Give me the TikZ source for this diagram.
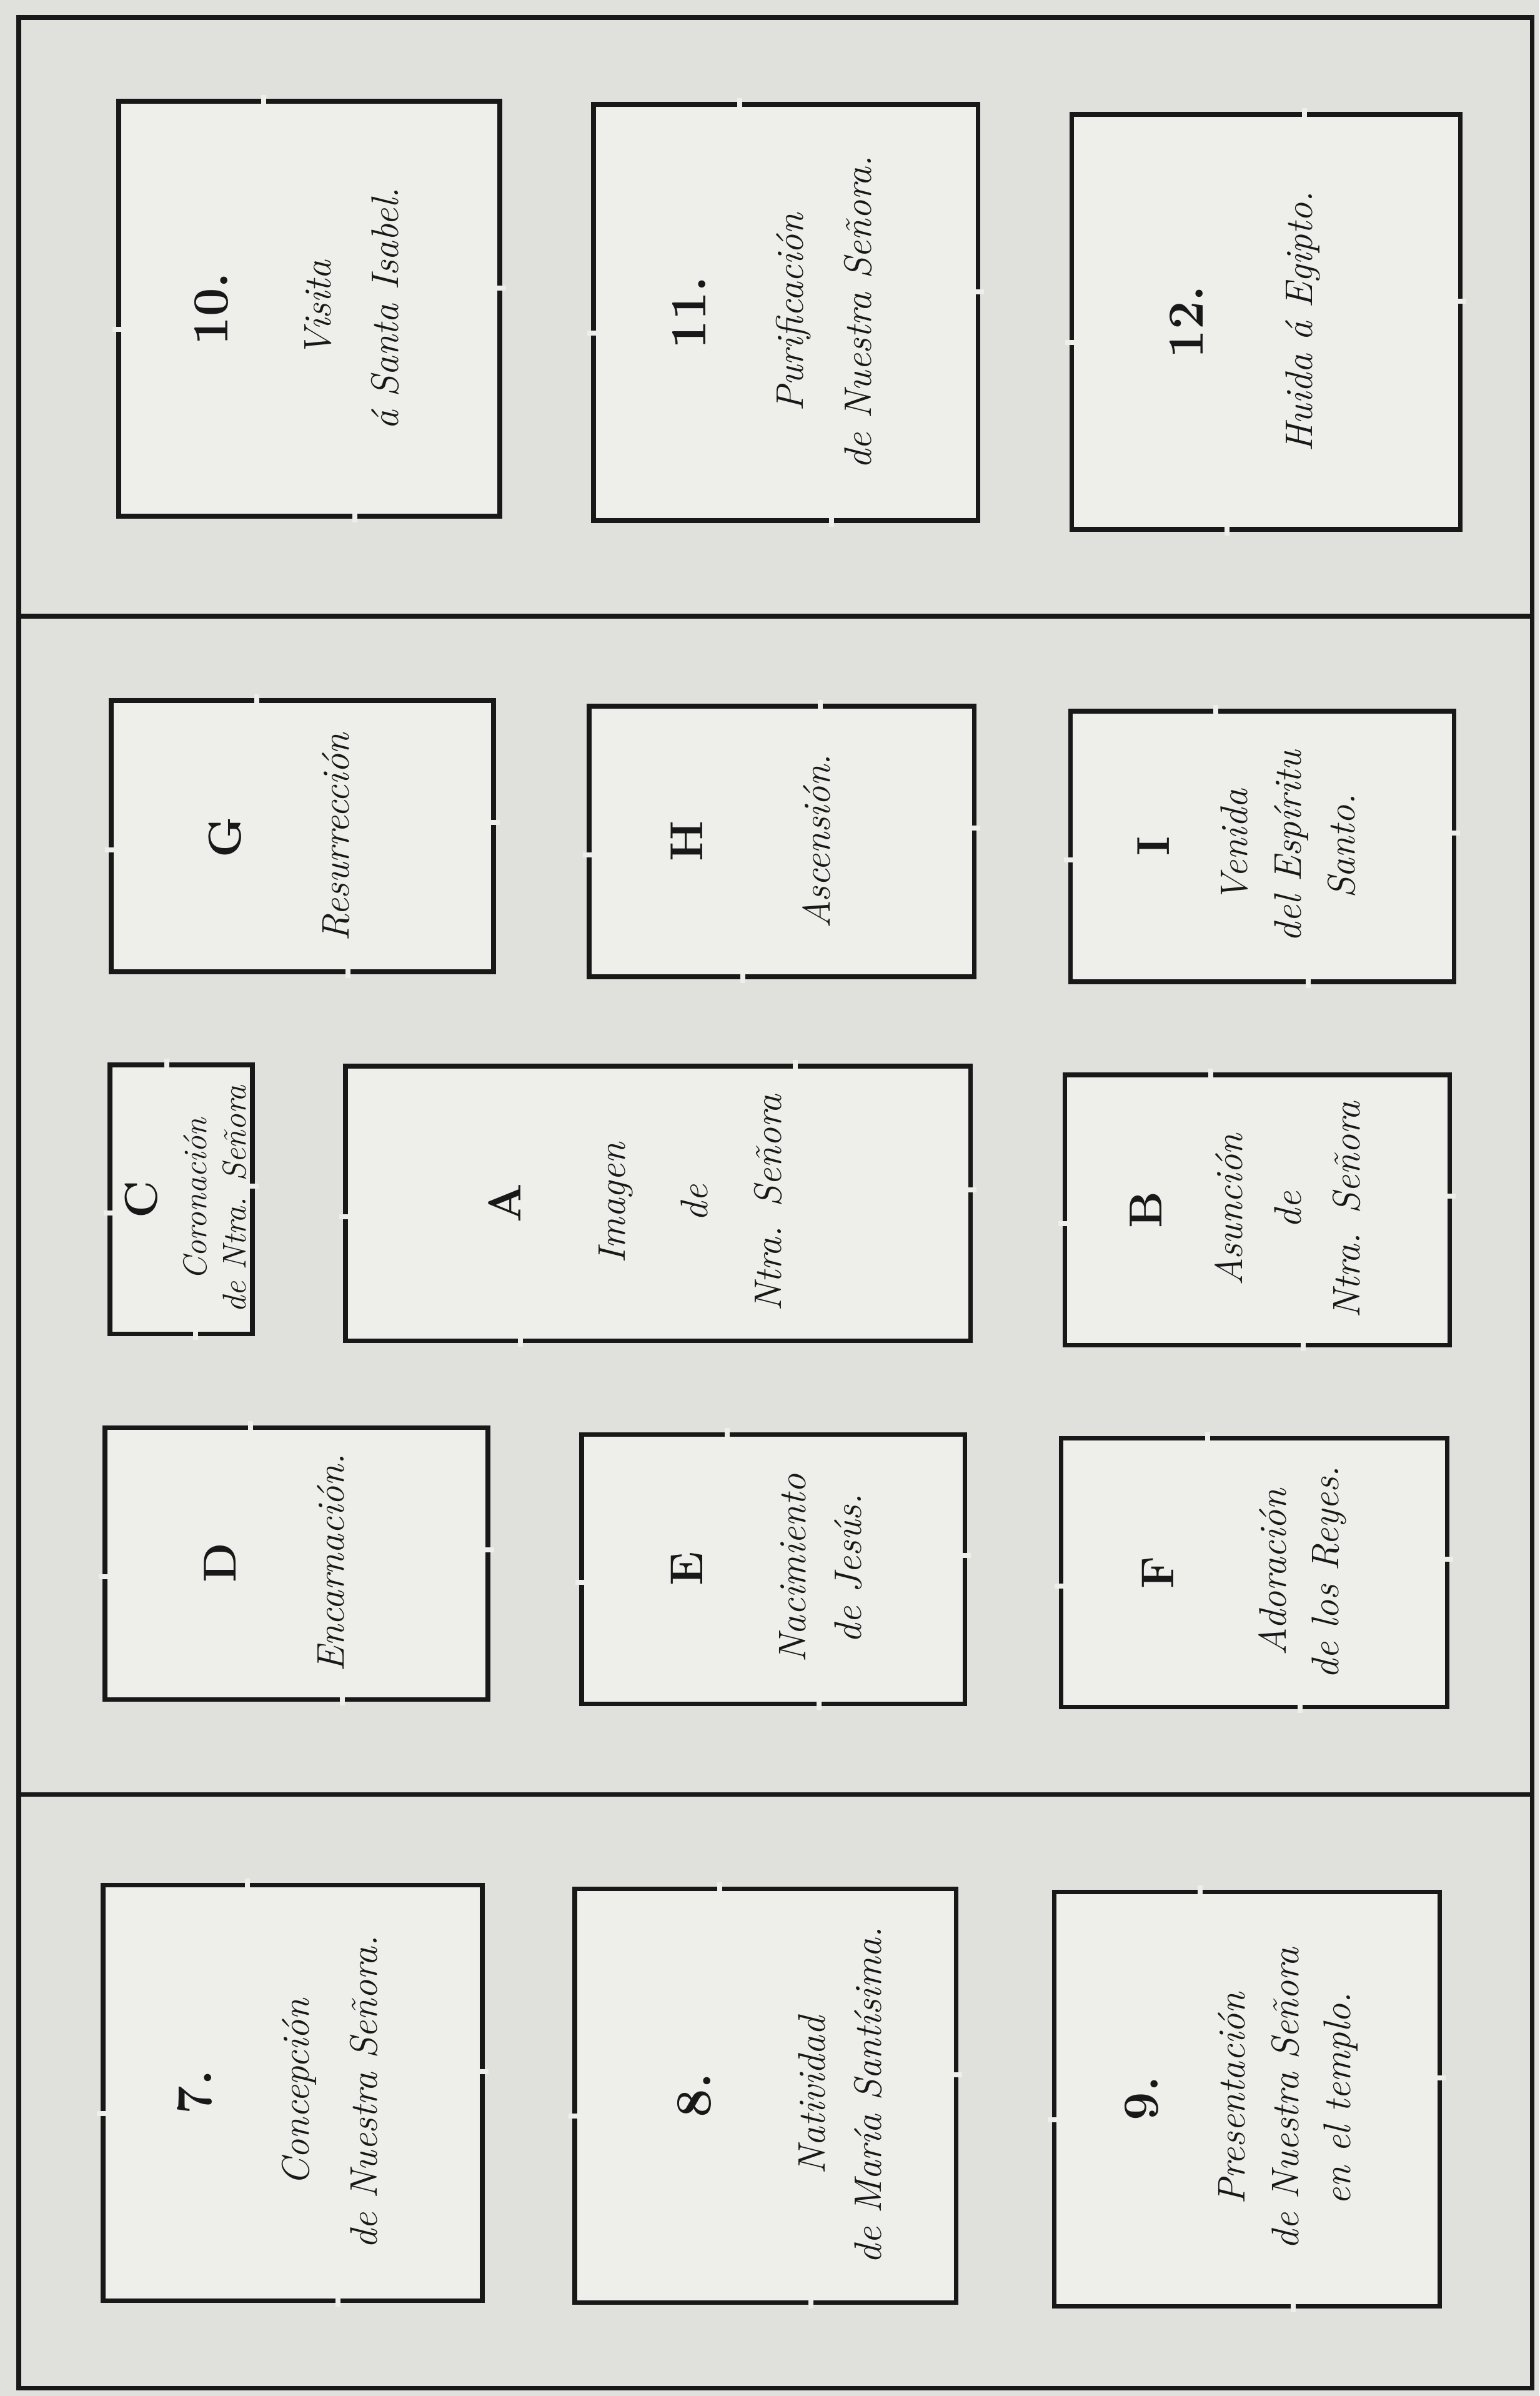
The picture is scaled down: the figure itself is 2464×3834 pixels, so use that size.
\documentclass[tikz,border=0pt]{standalone}
\usepackage{fontspec}
\definecolor{paper}{RGB}{224,224,221}
\definecolor{card}{RGB}{238,238,235}
\definecolor{ink}{RGB}{24,24,24}
\begin{document}
\begin{tikzpicture}[x=0.01cm, y=-0.01cm,
    rule/.style={draw=ink, line width=2pt},
    frame/.style={draw=ink, line width=2pt, fill=card},
    nick/.style={fill=card},
    numlbl/.style={rotate=90, anchor=base, inner sep=0pt, text=ink, font=\bfseries\fontsize{23}{27}\selectfont},
    letlbl/.style={numlbl, font=\bfseries\fontsize{21}{25}\selectfont},
    caplbl/.style={rotate=90, anchor=base, inner sep=0pt, text=ink, font=\itshape\fontsize{17.5}{21}\selectfont},
    smallcap/.style={caplbl, font=\itshape\fontsize{15}{18}\selectfont}]
  \fill[paper] (0,0) rectangle (2464,3834);
  \useasboundingbox (0,0) rectangle (2464,3834);
% page frame and the two cross rules
  \draw[rule] (30,28) rectangle (2452,3821);
  \draw[rule] (30,986) -- (2452,986);
  \draw[rule] (30,2871) -- (2452,2871);
% the fifteen tablets, each broken by four small nicks
  \foreach \xa/\ya/\xb/\yb/\t in {190/162/800/826/0.38, 950/167/1565/833/0.38, 1715/183/2337/847/0.6,
      178/1121/790/1555/0.38, 943/1130/1559/1563/0.6, 1713/1138/2327/1571/0.38,
      176/1704/404/2134/0.4, 553/1706/1553/2145/0.72, 1704/1720/2320/2152/0.38,
      168/2284/781/2719/0.38, 931/2295/1544/2726/0.38, 1698/2301/2316/2731/0.38,
      165/3016/772/3681/0.38, 920/3022/1530/3684/0.38, 1687/3027/2304/3690/0.38}{
    \draw[frame] (\xa,\ya) rectangle (\xb,\yb);
    \pgfmathsetmacro\gt{\xa+\t*(\xb-\xa)}
    \pgfmathsetmacro\gb{\xb-\t*(\xb-\xa)}
    \pgfmathsetmacro\gl{\ya+0.55*(\yb-\ya)}
    \pgfmathsetmacro\gr{\ya+0.45*(\yb-\ya)}
    \fill[nick] (\gt-4,\ya-10) rectangle (\gt+4,\ya+10);
    \fill[nick] (\gb-4,\yb-10) rectangle (\gb+4,\yb+10);
    \fill[nick] (\xa-10,\gl-4) rectangle (\xa+10,\gl+4);
    \fill[nick] (\xb-10,\gr-4) rectangle (\xb+10,\gr+4);
  }

% top band
\node[numlbl] (n10) at (364,494) {10.};
\node[caplbl] (t10a) at (529,494) {Visita};
\node[caplbl] (t10b) at (637,494) {á Santa Isabel.};

\node[numlbl] (n11) at (1129,500) {11.};
\node[caplbl] (t11a) at (1285,500) {Purificación};
\node[caplbl] (t11b) at (1394,500) {de Nuestra Señora.};

\node[numlbl] (n12) at (1925,515) {12.};
\node[caplbl] (t12a) at (2100,515) {Huida á Egipto.};

% middle band
\node[letlbl] (nG) at (385,1340) {G};
\node[caplbl] (tGa) at (558,1340) {Resurrección};

\node[letlbl] (nH) at (1124,1346) {H};
\node[caplbl] (tHa) at (1328,1346) {Ascensión.};

\node[letlbl] (nI) at (1871,1354) {I};
\node[caplbl] (tIa) at (1996,1354) {Venida};
\node[caplbl] (tIb) at (2082,1354) {del Espíritu};
\node[caplbl] (tIc) at (2168,1354) {Santo.};

\node[letlbl] (nC) at (251,1919) {C};
\node[smallcap] (tCa) at (330,1919) {Coronación};
\node[smallcap] (tCb) at (393,1919) {de Ntra. Señora};

\node[letlbl] (nA) at (833,1925) {A};
\node[caplbl] (tAa) at (1000,1925) {Imagen};
\node[caplbl] (tAb) at (1132,1925) {de};
\node[caplbl] (tAc) at (1250,1925) {Ntra.\enspace Señora};

\node[letlbl] (nB) at (1859,1936) {B};
\node[caplbl] (tBa) at (1988,1936) {Asunción};
\node[caplbl] (tBb) at (2082,1936) {de};
\node[caplbl] (tBc) at (2176,1936) {Ntra.\enspace Señora};

\node[letlbl] (nD) at (377,2501) {D};
\node[caplbl] (tDa) at (550,2501) {Encarnación.};

\node[letlbl] (nE) at (1124,2510) {E};
\node[caplbl] (tEa) at (1289,2510) {Nacimiento};
\node[caplbl] (tEb) at (1378,2510) {de Jesús.};

\node[letlbl] (nF) at (1878,2516) {F};
\node[caplbl] (tFa) at (2058,2516) {Adoración};
\node[caplbl] (tFb) at (2142,2516) {de los Reyes.};

% bottom band
\node[numlbl] (n7) at (338,3348) {7.};
\node[caplbl] (t7a) at (494,3348) {Concepción};
\node[caplbl] (t7b) at (603,3348) {de Nuestra Señora.};

\node[numlbl] (n8) at (1137,3353) {8.};
\node[caplbl] (t8a) at (1320,3353) {Natividad};
\node[caplbl] (t8b) at (1410,3353) {de María Santísima.};

\node[numlbl] (n9) at (1853,3358) {9.};
\node[caplbl] (t9a) at (1992,3358) {Presentación};
\node[caplbl] (t9b) at (2078,3358) {de Nuestra Señora};
\node[caplbl] (t9c) at (2161,3358) {en el templo.};

\end{tikzpicture}
\end{document}
